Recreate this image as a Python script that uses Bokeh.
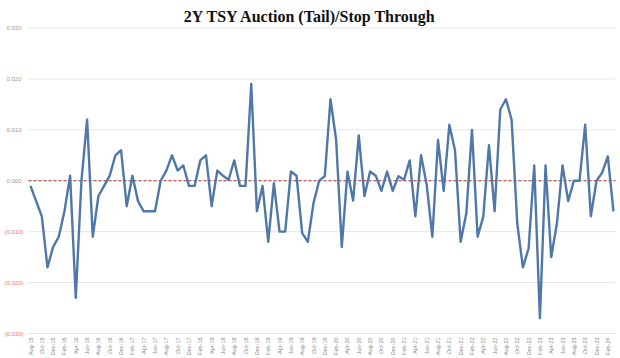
import math
from bokeh.plotting import figure
from bokeh.models import Range1d, ColumnDataSource
from bokeh.core.properties import value
from bokeh.embed import file_html
from bokeh.resources import INLINE

# Auction tail (-) / stop-through (+), in percentage points, monthly
values = [
    -0.001, -0.004, -0.007, -0.017, -0.013, -0.011, -0.006, 0.001, -0.023, 0.000,
    0.012, -0.011, -0.003, -0.001, 0.001, 0.005, 0.006, -0.005, 0.001, -0.004,
    -0.006, -0.006, -0.006, 0.000, 0.002, 0.005, 0.002, 0.003, -0.001, -0.001,
    0.004, 0.005, -0.005, 0.002, 0.001, 0.0002, 0.004, -0.001, -0.001, 0.019,
    -0.006, -0.001, -0.012, -0.0005, -0.010, -0.010, 0.0018, 0.001, -0.0103, -0.012,
    -0.0044, 0.000, 0.0009, 0.016, 0.008, -0.013, 0.0018, -0.0039, 0.0089, -0.003,
    0.0018, 0.001, -0.002, 0.0018, -0.002, 0.0009, 0.0002, 0.004, -0.007, 0.005,
    -0.0008, -0.011, 0.008, -0.002, 0.011, 0.006, -0.012, -0.0064, 0.010, -0.011,
    -0.007, 0.007, -0.006, 0.014, 0.016, 0.012, -0.0084, -0.017, -0.0133, 0.003,
    -0.027, 0.003, -0.015, -0.0084, 0.003, -0.004, 0.000, 0.000, 0.011, -0.007,
    0.000, 0.0016, 0.0048, -0.006,
]

tick_labels = [
    "Aug-15", "Oct-15", "Dec-15",
    "Feb-16", "Apr-16", "Jun-16", "Aug-16", "Oct-16", "Dec-16",
    "Feb-17", "Apr-17", "Jun-17", "Aug-17", "Oct-17", "Dec-17",
    "Feb-18", "Apr-18", "Jun-18", "Aug-18", "Oct-18", "Dec-18",
    "Feb-19", "Apr-19", "Jun-19", "Aug-19", "Oct-19", "Dec-19",
    "Feb-20", "Apr-20", "Jun-20", "Aug-20", "Oct-20", "Dec-20",
    "Feb-21", "Apr-21", "Jun-21", "Aug-21", "Oct-21", "Dec-21",
    "Feb-22", "Apr-22", "Jun-22", "Aug-22", "Oct-22", "Dec-22",
    "Feb-23", "Apr-23", "Jun-23", "Aug-23", "Oct-23", "Dec-23",
    "Feb-24",
]

ytick_values = [0.03, 0.02, 0.01, 0.0, -0.01, -0.02, -0.03]
ytick_labels = ["0.030", "0.020", "0.010", "0.000", "(0.010)", "(0.020)", "(0.030)"]
ytick_colors = ["#9a9a9a", "#9a9a9a", "#9a9a9a", "#9a9a9a", "#e07a7a", "#e07a7a", "#e07a7a"]

TITLE = "2Y TSY Auction (Tail)/Stop Through"

x = list(range(len(values)))
tick_pos = list(range(0, 2 * len(tick_labels), 2))

# ---- layout: page px -> data conversion (frame fills the whole figure) ----
W, H = 620, 358
S = 5.66            # px per month
X0_PAGE = 30.0      # page x of first point
K = 5092.0          # px per unit of value
Y0_PAGE = 180.25    # page y of zero line


def dx(px):
    return (px - X0_PAGE) / S


def dy(py):
    return (Y0_PAGE - py) / K


p = figure(width=W, height=H, output_backend="svg", toolbar_location=None,
           x_range=Range1d(dx(0), dx(W)), y_range=Range1d(dy(H), dy(0)),
           x_axis_location=None, y_axis_location=None,
           min_border_left=0, min_border_right=0, min_border_top=0, min_border_bottom=0)
p.outline_line_color = None
p.xgrid.visible = False
p.ygrid.visible = False
p.background_fill_color = "white"
p.border_fill_color = "white"

grid_x0 = dx(28)
grid_x1 = dx(615)

# horizontal gridlines
p.segment(x0=[grid_x0] * len(ytick_values), x1=[grid_x1] * len(ytick_values),
          y0=ytick_values, y1=ytick_values, line_color="#e6e6e6", line_width=1)

# zero reference line
p.segment(x0=[grid_x0], x1=[grid_x1], y0=[0.0], y1=[0.0],
          line_color="#a8392f", line_dash="3 2", line_width=1)

# data line
p.line(x, values, line_color="#4f77a8", line_width=2.4, line_join="round")

# y tick labels
ysrc = ColumnDataSource(dict(x=[dx(13.5)] * len(ytick_values), y=ytick_values,
                             text=ytick_labels, color=ytick_colors))
p.text(x="x", y="y", text="text", source=ysrc, text_color="color",
       text_font_size="6px", text_font=value("Liberation Sans"),
       text_align="center", text_baseline="middle")

# x tick labels (rotated)
xsrc = ColumnDataSource(dict(x=tick_pos, y=[dy(337)] * len(tick_pos), text=tick_labels))
p.text(x="x", y="y", text="text", source=xsrc, text_color="#8a8a8a",
       text_font_size="5.5px", text_font=value("Liberation Sans"),
       angle=math.pi / 2, text_align="right", text_baseline="middle")

# title
p.text(x=[dx(310)], y=[dy(15.5)], text=[TITLE], text_color="#111111",
       text_font_size="16px", text_font=value("Liberation Serif"),
       text_font_style="bold", text_align="center", text_baseline="middle")

open("out.html", "w").write(file_html(p, INLINE))
